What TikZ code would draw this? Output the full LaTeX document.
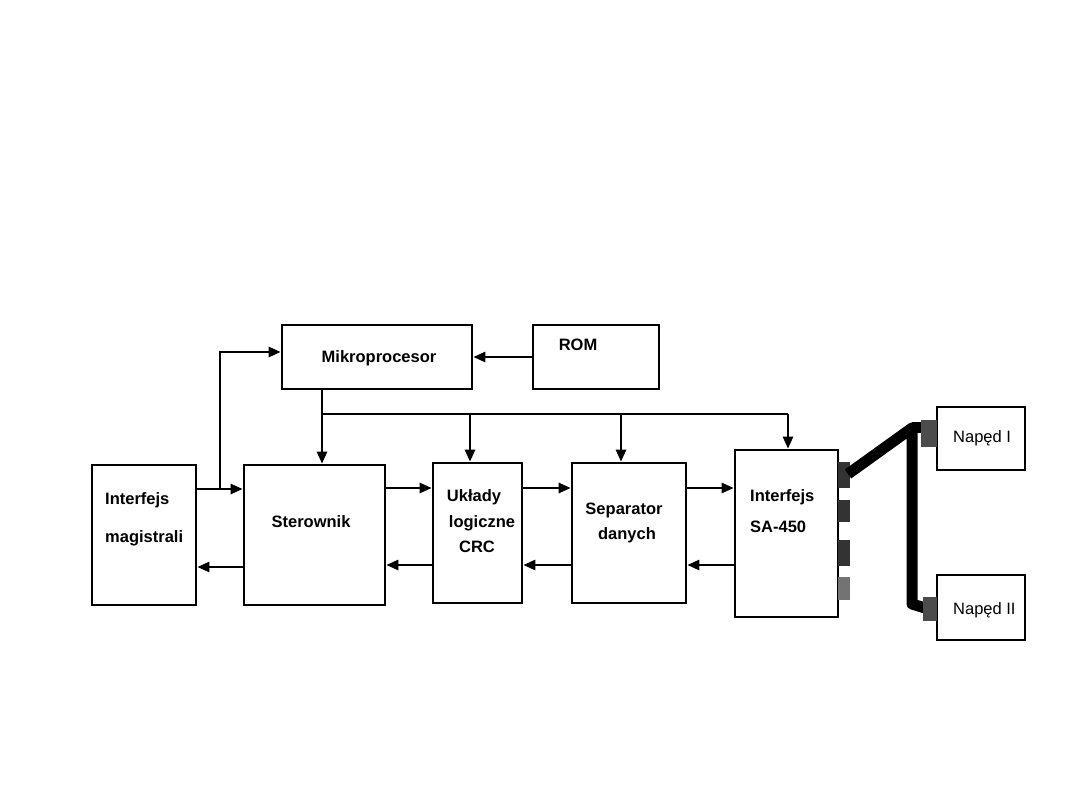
\documentclass[tikz,border=0pt]{standalone}
\usepackage{fontspec}
\setmainfont{Liberation Sans}
\usetikzlibrary{arrows.meta,calc}
\tikzset{
  blk/.style={draw=black, line width=2.6pt, fill=white, minimum width=#1, inner sep=0pt},
  lbl/.style={font=\fontsize{16.5}{18}\selectfont\bfseries, inner sep=0pt, anchor=center},
  lblr/.style={font=\fontsize{16.5}{18}\selectfont, inner sep=0pt, anchor=center},
  arr/.style={line width=2.5pt, -{Triangle[length=12pt,width=10pt]}},
  ln/.style={line width=2.5pt},
  plug/.style={fill=black!80, draw=none},
  cable/.style={line width=11pt, line join=round}
}
\begin{document}
\begin{tikzpicture}[x=1pt,y=-1pt]
\useasboundingbox[fill=white] (0,0) rectangle (1080,810);
% boxes
\node[blk=104pt, minimum height=140pt] (im) at (144,535) {};
\node[blk=141pt, minimum height=140pt] (st) at (314.5,535) {};
\node[blk=190pt, minimum height=64pt] (mp) at (377,357) {};
\node[blk=126pt, minimum height=64pt] (rom) at (596,357) {};
\node[blk=89pt, minimum height=140pt] (crc) at (477.5,533) {};
\node[blk=114pt, minimum height=140pt] (sep) at (629,533) {};
\node[blk=103pt, minimum height=167pt] (sa) at (786.5,533.5) {};
\node[blk=88pt, minimum height=63pt] (n1) at (981,438.5) {};
\node[blk=88pt, minimum height=65pt] (n2) at (981,607.5) {};
% labels
\node[lbl, anchor=west] (t1) at (105,500) {Interfejs};
\node[lbl, anchor=west] (t2) at (105,538) {magistrali};
\node[lbl] (t3) at (311,522) {Sterownik};
\node[lbl] (t4) at (379,358) {Mikroprocesor};
\node[lbl] (t5) at (578,345) {ROM};
\node[lbl] (t6) at (474,497) {Układy};
\node[lbl] (t7) at (482,523) {logiczne};
\node[lbl] (t8) at (477,547) {CRC};
\node[lbl] (t9) at (624,510) {Separator};
\node[lbl] (t10) at (627,535) {danych};
\node[lbl, anchor=west] (t11) at (750,497) {Interfejs};
\node[lbl, anchor=west] (t12) at (750,527) {SA-450};
\node[lblr, anchor=west] (t13) at (953,438) {Napęd I};
\node[lblr, anchor=west] (t14) at (953,610) {Napęd II};
% coordinates
\coordinate (j1) at (220,489);
\coordinate (bus0) at (322,414);
% interfejs <-> sterownik
\draw[arr] (im.east |- j1) -- (st.west |- j1);
\draw[arr] (st.west |- 0,567) -- (im.east |- 0,567);
\draw[arr] (j1) -- (j1 |- 0,352) -- (mp.west |- 0,352);
% ROM -> Mikro
\draw[arr] (rom.west) -- (mp.east);
% bus
\draw[ln] (mp.south -| bus0) -- (bus0) -- (788,414);
\draw[arr] (bus0) -- (st.north -| bus0);
\draw[arr] (470,414) -- (crc.north -| 470,0);
\draw[arr] (621,414) -- (sep.north -| 621,0);
\draw[arr] (788,414) -- (sa.north -| 788,0);
% data path
\draw[arr] (st.east |- 0,488) -- (crc.west |- 0,488);
\draw[arr] (crc.west |- 0,565) -- (st.east |- 0,565);
\draw[arr] (crc.east |- 0,488) -- (sep.west |- 0,488);
\draw[arr] (sep.west |- 0,565) -- (crc.east |- 0,565);
\draw[arr] (sep.east |- 0,488) -- (sa.west |- 0,488);
\draw[arr] (sa.west |- 0,565) -- (sep.east |- 0,565);
% plugs on SA-450
\fill[plug] (838,462) rectangle (850,488);
\fill[plug] (838,500) rectangle (850,522);
\fill[plug] (838,540) rectangle (850,566);
\fill[black!55] (838,577) rectangle (850,600);
% cable
\coordinate (cA) at (848,474);
\coordinate (cB) at (912,428);
\coordinate (cC) at (912,604);
\draw[cable] (cA) -- (cB) -- (cC) -- (925,608);
\draw[cable] (cB) -- (925,428);
\fill[black!70] (921,420) rectangle (937,447);
\fill[black!70] (923,597) rectangle (937,621);
\end{tikzpicture}
\end{document}
